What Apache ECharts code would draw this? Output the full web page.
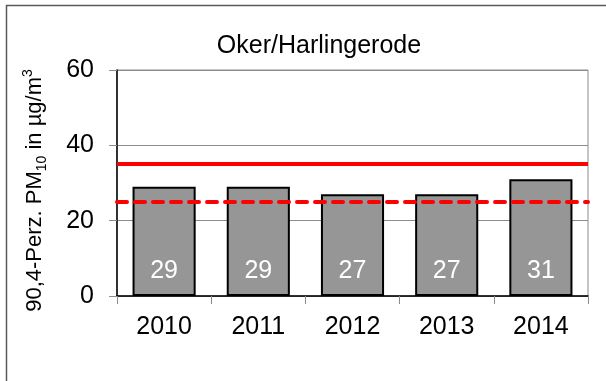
<!DOCTYPE html>
<html>
<head>
<meta charset="utf-8">
<script src="https://cdn.jsdelivr.net/npm/echarts@6/dist/echarts.min.js"></script>
<style>
  html, body { margin: 0; padding: 0; background: #fff; }
  #chart { width: 606px; height: 381px; }
</style>
</head>
<body>
<div id="chart"></div>
<script>
// PM10 90.4th percentile per year, station Oker/Harlingerode
const years = ['2010', '2011', '2012', '2013', '2014'];
const pm10Percentile = [29, 29, 27, 27, 31];
const limitValue = 35;   // solid red reference line
const targetValue = 25;  // dashed red reference line
const yTicks = [0, 20, 40, 60];

const FONT = '"Liberation Sans", Arial, sans-serif';

const chart = echarts.init(document.getElementById('chart'), null, { renderer: 'canvas' });

chart.setOption({
  backgroundColor: '#ffffff',
  animation: false,
  textStyle: { fontFamily: FONT },
  title: {
    text: 'Oker/Harlingerode',
    left: 314,
    textAlign: 'center',
    top: 29,
    textStyle: { fontFamily: FONT, fontSize: 25, fontWeight: 'normal', color: '#000' }
  },
  graphic: [
    {
      type: 'polyline',
      shape: { points: [[6.5, 381], [6.5, 5.5], [606, 5.5]] },
      style: { stroke: '#5a5a5a', lineWidth: 1.5, fill: null },
      silent: true
    },
    {
      type: 'text',
      left: 21,
      top: 'middle',
      rotation: Math.PI / 2,
      style: {
        text: '{m|90,4-Perz. PM}{sub|10}{m| in µg/m}{sup|3}',
        x: 0, y: 0,
        rich: {
          m: { fontFamily: FONT, fontSize: 22, lineHeight: 28, fill: '#000', verticalAlign: 'middle' },
          sub: { fontFamily: FONT, fontSize: 14, lineHeight: 28, fill: '#000', verticalAlign: 'bottom' },
          sup: { fontFamily: FONT, fontSize: 14, lineHeight: 28, fill: '#000', verticalAlign: 'top' }
        }
      },
      silent: true
    }
  ],
  grid: {
    left: 117, right: 18, top: 70, bottom: 85,
    show: true, borderColor: '#8c8c8c', borderWidth: 1
  },
  xAxis: {
    type: 'category',
    data: years,
    boundaryGap: true,
    axisLine: { show: true, lineStyle: { color: '#000', width: 1.5 } },
    axisTick: { show: true, length: 8, alignWithLabel: false, lineStyle: { color: '#8c8c8c' } },
    axisLabel: { fontFamily: FONT, fontSize: 25, color: '#000', margin: 19 }
  },
  yAxis: {
    type: 'value',
    min: yTicks[0],
    max: yTicks[yTicks.length - 1],
    interval: 20,
    axisLine: { show: true, lineStyle: { color: '#000', width: 1.5 } },
    axisTick: { show: true, inside: false, length: 8, lineStyle: { color: '#8c8c8c' } },
    axisLabel: { fontFamily: FONT, fontSize: 25, color: '#000', margin: 23 },
    splitLine: { show: true, lineStyle: { color: '#8c8c8c', width: 1 } }
  },
  series: [
    {
      type: 'bar',
      data: pm10Percentile,
      barWidth: '67%',
      itemStyle: { color: '#969696', borderColor: '#000', borderWidth: 2 },
      label: {
        show: true,
        position: 'insideBottom',
        distance: 12,
        color: '#fff',
        fontFamily: FONT,
        fontSize: 25
      },
      z: 2,
      markLine: {
        silent: true,
        symbol: ['none', 'none'],
        label: { show: false },
        z: 5,
        data: [
          { yAxis: limitValue, lineStyle: { color: '#ff0000', width: 4, type: 'solid' } },
          { yAxis: targetValue, lineStyle: { color: '#ff0000', width: 4, type: [10, 8], cap: 'round' } }
        ]
      }
    }
  ]
});
</script>
</body>
</html>
